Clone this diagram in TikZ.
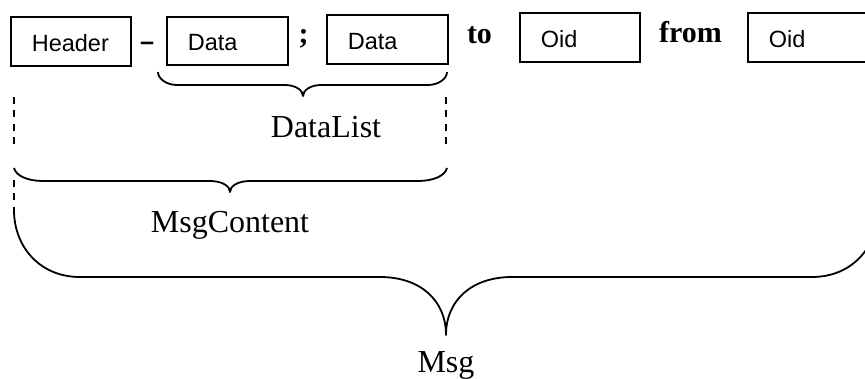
\documentclass[tikz,border=0pt]{standalone}
\usepackage{fontspec}
\setmainfont{Liberation Serif}
\newfontfamily\fieldfont{Liberation Sans}
\begin{document}
\begin{tikzpicture}[x=1pt,y=-1pt,
  fieldbox/.style={draw, line width=1.6pt, anchor=north west, rectangle,
    font=\fieldfont\fontsize{23.5}{27}\selectfont,
    inner xsep=21pt, inner ysep=0pt, align=left,
    text height=20pt, text depth=0pt},
  keyword/.style={font=\bfseries\fontsize{30}{34}\selectfont, anchor=base, inner sep=0pt},
  label/.style={font=\fontsize{32}{36}\selectfont, anchor=base, inner sep=0pt},
  curly/.style={line width=1.8pt, line join=round},
  guide/.style={line width=1.8pt, dash pattern=on 7pt off 6.3pt}]
\useasboundingbox (0,0) rectangle (865,378);
\clip (0,0) rectangle (865,378);

% message fields
\node[fieldbox, text width=78pt,  minimum height=49pt] (hdr)   at (10,16)  {Header};
\node[fieldbox, text width=79pt,  minimum height=48pt] (data1) at (166,16) {Data};
\node[fieldbox, text width=79pt,  minimum height=49pt] (data2) at (326,14) {Data};
\node[fieldbox, text width=78pt,  minimum height=49pt] (oid1)  at (519,12) {Oid};
\node[fieldbox, text width=78pt,  minimum height=49pt] (oid2)  at (747,12) {Oid};

% separators and keywords
\node[keyword, xscale=1.6] (dash) at (147,50) {-};
\node[keyword] (semi) at (303.5,43) {;};
\node[keyword] (kto)  at (479.5,43) {to};
\node[keyword] (kfrom) at (690.5,42) {from};

% DataList brace
\draw[curly] (158,72) .. controls (158,79) and (167,85) .. (177,85) -- (285,85)
  .. controls (295,85) and (303,90) .. (303,96)
  .. controls (303,90) and (311,85) .. (321,85) -- (428,85)
  .. controls (438,85) and (447,79) .. (447,72);
\node[label] (datalist) at (326,137) {DataList};

% extension guides
\draw[guide] (14,97) -- (14,147);
\draw[guide] (446,97) -- (446,147);
\draw[guide] (14,180) -- (14,210);

% MsgContent brace
\draw[curly] (14,168) .. controls (16,176) and (28,181) .. (43,181) -- (210,181)
  .. controls (222,181) and (230,186) .. (230,192)
  .. controls (230,186) and (238,181) .. (250,181) -- (418,181)
  .. controls (433,181) and (445,176) .. (447,168);
\node[label] (msgcontent) at (230,232) {MsgContent};

% Msg brace
\draw[curly] (14,210) .. controls (14,247) and (40,277) .. (80,277) -- (380,277)
  .. controls (420,277) and (446,300) .. (446,335)
  .. controls (446,300) and (472,277) .. (512,277) -- (812,277)
  .. controls (852,277) and (878,247) .. (878,210);
\node[label] (msg) at (446,372) {Msg};
\end{tikzpicture}
\end{document}
